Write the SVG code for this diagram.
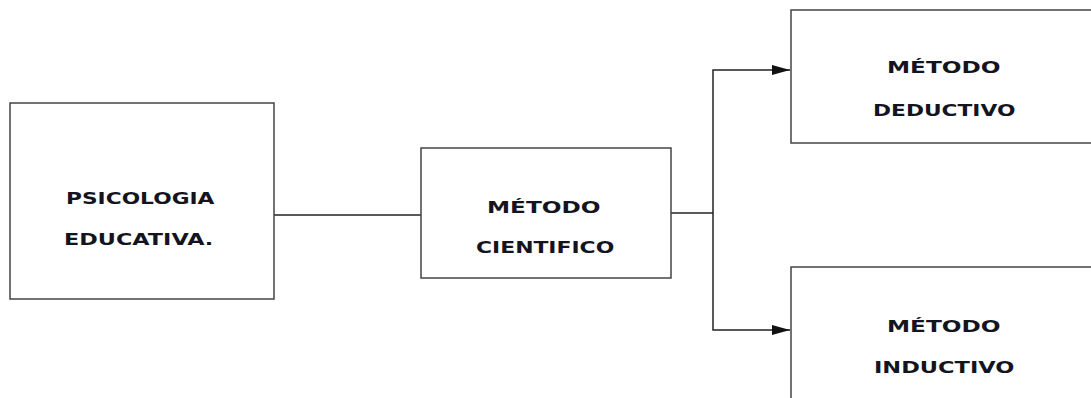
<svg xmlns="http://www.w3.org/2000/svg" width="1091" height="398" viewBox="0 0 1091 398">
<style>
.box{fill:#fff;stroke:#444;stroke-width:1.5}
.lbl{font-family:"DejaVu Sans","Open Sans",sans-serif;font-weight:bold;font-size:15px;fill:#14141f}
.con{fill:none;stroke:#222;stroke-width:1.5}
</style>
<defs>
<marker id="arr" markerWidth="18" markerHeight="10" refX="18" refY="5" orient="auto" markerUnits="userSpaceOnUse">
<path d="M0,0 L18,5 L0,10 Z" fill="#111"/>
</marker>
</defs>
<rect width="1091" height="398" fill="#fff"/>
<g id="connectors">
<line class="con" x1="274" y1="215" x2="421" y2="215"/>
<polyline class="con" points="671,213 713,213"/>
<polyline class="con" points="713,213 713,70 790,70" marker-end="url(#arr)"/>
<polyline class="con" points="713,213 713,330 790,330" marker-end="url(#arr)"/>
</g>
<g id="psicologia">
<rect class="box" x="10" y="103" width="264" height="196"/>
<text class="lbl" transform="translate(66,204) scale(1.45,1)">PSICOLOGIA</text>
<text class="lbl" transform="translate(64,245) scale(1.49,1)">EDUCATIVA.</text>
</g>
<g id="cientifico">
<rect class="box" x="421" y="148" width="250" height="130"/>
<text class="lbl" transform="translate(487,213) scale(1.55,1)">MÉTODO</text>
<text class="lbl" transform="translate(476,253) scale(1.46,1)">CIENTIFICO</text>
</g>
<g id="deductivo">
<rect class="box" x="791" y="10" width="320" height="133"/>
<text class="lbl" transform="translate(887,73) scale(1.55,1)">MÉTODO</text>
<text class="lbl" transform="translate(873,116) scale(1.45,1)">DEDUCTIVO</text>
</g>
<g id="inductivo">
<rect class="box" x="791" y="267" width="320" height="150"/>
<text class="lbl" transform="translate(887,332) scale(1.55,1)">MÉTODO</text>
<text class="lbl" transform="translate(874,373) scale(1.5,1)">INDUCTIVO</text>
</g>
</svg>
